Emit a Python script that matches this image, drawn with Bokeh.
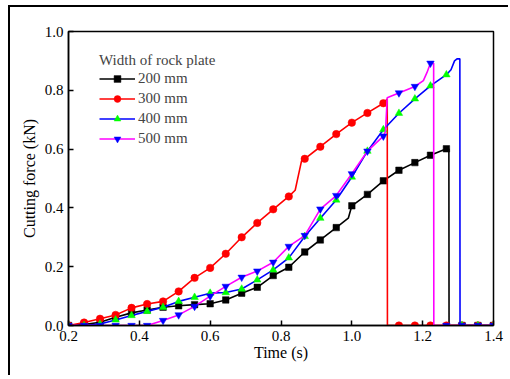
from bokeh.plotting import figure
from bokeh.models import Legend, LegendItem, FixedTicker, NumeralTickFormatter, Range1d
from bokeh.embed import file_html
from bokeh.resources import INLINE

# marker times (s)
times = [0.200, 0.244, 0.289, 0.333, 0.378, 0.422, 0.467, 0.511, 0.556, 0.600,
         0.644, 0.689, 0.733, 0.778, 0.822, 0.867, 0.911, 0.956, 1.000, 1.044,
         1.089, 1.133, 1.178, 1.222, 1.267, 1.311, 1.356, 1.400]

f200 = [0.0, 0.003, 0.011, 0.028, 0.043, 0.053, 0.062, 0.067, 0.071, 0.074,
        0.087, 0.110, 0.130, 0.170, 0.198, 0.250, 0.291, 0.333, 0.407, 0.446,
        0.492, 0.528, 0.554, 0.579, 0.601, 0.0, 0.0, 0.0]
f300 = [0.0, 0.010, 0.023, 0.036, 0.060, 0.073, 0.082, 0.116, 0.162, 0.196,
        0.244, 0.300, 0.349, 0.395, 0.439, 0.567, 0.608, 0.651, 0.690, 0.723,
        0.756, 0.0, 0.0, 0.0, 0.0, 0.0, 0.0, 0.0]
f400 = [0.0, 0.0, 0.005, 0.019, 0.034, 0.048, 0.062, 0.082, 0.096, 0.110,
        0.112, 0.124, 0.155, 0.189, 0.230, 0.303, 0.365, 0.427, 0.505, 0.593,
        0.666, 0.722, 0.771, 0.815, 0.853, 0.0, 0.0, 0.0]
f500 = [0.0, 0.0, 0.0, 0.0, 0.0, 0.0, 0.017, 0.036, 0.065, 0.100,
        0.133, 0.164, 0.185, 0.215, 0.269, 0.306, 0.396, 0.442, 0.516, 0.593,
        0.644, 0.791, 0.813, 0.892, 0.0, 0.0, 0.0, 0.0]

# extra line points between markers (time, force)
x200_t = [0.990, 1.274, 1.2745]
x200_f = [0.365, 0.600, 0.0]
x300_t = [0.840, 0.858, 1.100, 1.1005]
x300_f = [0.460, 0.560, 0.770, 0.0]
x400_t = [1.280, 1.290, 1.297, 1.305, 1.3055]
x400_f = [0.870, 0.900, 0.907, 0.907, 0.0]
x500_t = [1.095, 1.100, 1.110, 1.202, 1.212, 1.231, 1.2315]
x500_f = [0.660, 0.775, 0.780, 0.833, 0.860, 0.892, 0.0]

labels = ["200 mm", "300 mm", "400 mm", "500 mm"]
x_ticks = [0.2, 0.4, 0.6, 0.8, 1.0, 1.2, 1.4]
y_ticks = [0.0, 0.2, 0.4, 0.6, 0.8, 1.0]

FONT = "Liberation Serif"

p = figure(width=500, height=370, output_backend="svg", toolbar_location=None,
           x_range=Range1d(0.2, 1.4), y_range=Range1d(0.0, 1.0),
           min_border_left=58, min_border_right=17, min_border_top=24, min_border_bottom=52)
p.styles = {"margin-left": "8px", "margin-top": "5px",
            "border-left": "2px solid black", "border-top": "2px solid black"}
p.xgrid.visible = False
p.ygrid.visible = False
p.outline_line_color = "black"
p.outline_line_width = 1.5
p.background_fill_color = "white"
p.border_fill_color = "white"

for ax in (p.xaxis[0], p.yaxis[0]):
    ax.axis_line_width = 1.5
    ax.major_tick_in = 5
    ax.major_tick_out = 0
    ax.minor_tick_in = 0
    ax.minor_tick_out = 0
    ax.major_tick_line_width = 1.5
    ax.major_label_text_font = FONT
    ax.major_label_text_font_size = "15px"
    ax.major_label_text_color = "black"
    ax.axis_label_text_font = FONT
    ax.axis_label_text_font_size = "16px"
    ax.axis_label_text_font_style = "normal"
    ax.axis_label_text_color = "black"
    ax.formatter = NumeralTickFormatter(format="0.0")

p.xaxis.ticker = FixedTicker(ticks=x_ticks)
p.yaxis.ticker = FixedTicker(ticks=y_ticks)
p.xaxis.axis_label = "Time (s)"
p.yaxis.axis_label = "Cutting force (kN)"
p.xaxis.major_label_standoff = 5
p.xaxis.axis_label_standoff = 0
p.yaxis.major_label_standoff = 5
p.yaxis.axis_label_standoff = 4


def merged(mt, mf, et, ef):
    pts = sorted(list(zip(mt, mf)) + list(zip(et, ef)), key=lambda q: q[0])
    return [q[0] for q in pts], [q[1] for q in pts]


series = [
    (f200, x200_t, x200_f, "black", "square", "black", "black"),
    (f300, x300_t, x300_f, "red", "circle", "red", "red"),
    (f400, x400_t, x400_f, "blue", "triangle", "#00ff00", "#00ff00"),
    (f500, x500_t, x500_f, "magenta", "inverted_triangle", "blue", "blue"),
]

items = []
for (mf, et, ef, lc, mk, fc, mlc), lab in zip(series, labels):
    lt, lf = merged(times, mf, et, ef)
    lr = p.line(lt, lf, line_color=lc, line_width=1.6)
    sr = p.scatter(times, mf, marker=mk, size=7.5 if mk != "square" else 6.5,
                   fill_color=fc, line_color=mlc, line_width=0.5)
    items.append(LegendItem(label=lab, renderers=[lr, sr]))

legend = Legend(items=items, location=(31, 178), title="Width of rock plate")
legend.title_text_font = FONT
legend.title_text_font_size = "15px"
legend.title_text_font_style = "normal"
legend.title_standoff = 1
legend.label_text_font = FONT
legend.label_text_font_size = "15px"
legend.glyph_width = 36
legend.glyph_height = 17
legend.label_height = 17
legend.label_standoff = 3
legend.spacing = 3
legend.padding = 0
legend.margin = 0
legend.border_line_alpha = 0
legend.background_fill_alpha = 0
p.add_layout(legend)

open("out.html", "w").write(file_html(p, INLINE))
